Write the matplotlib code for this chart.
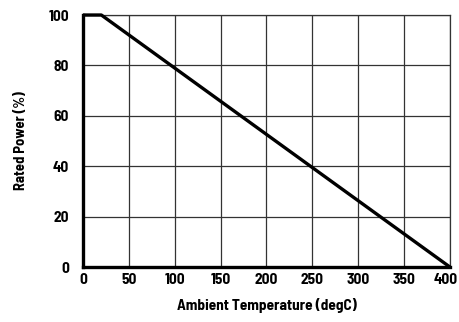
import matplotlib
matplotlib.use("Agg")
import matplotlib.pyplot as plt
from matplotlib.transforms import ScaledTranslation

temp = [0, 20, 400]
power = [100, 100, 0]
xticks = [0, 50, 100, 150, 200, 250, 300, 350, 400]
yticks = [0, 20, 40, 60, 80, 100]

plt.rcParams['font.family'] = ['Barlow Semi Condensed', 'Liberation Sans Narrow', 'DejaVu Sans']
plt.rcParams['font.weight'] = 'bold'

fig = plt.figure(figsize=(4.6, 3.22), dpi=100)
ax = fig.add_axes([0.1804, 0.1708, 0.7976, 0.7826])

ax.plot(temp, power, color='black', lw=2.4, solid_capstyle='butt', zorder=3, clip_on=False)
ax.set_xlim(0, 400)
ax.set_ylim(0, 100)
ax.set_xticks(xticks)
ax.set_yticks(yticks)
ax.grid(True, color='#333333', lw=0.9)
ax.tick_params(length=0, labelsize=11)
ax.tick_params(axis='x', pad=4)
ax.tick_params(axis='y', pad=10)
for lab in ax.get_xticklabels() + ax.get_yticklabels():
    lab.set_fontweight('bold')
# keep the last x label inside the figure
last = ax.get_xticklabels()[-1]
last.set_transform(last.get_transform() + ScaledTranslation(-4 / 100, 0, fig.dpi_scale_trans))
for s in ['top', 'right']:
    ax.spines[s].set_linewidth(0.9)
    ax.spines[s].set_color('#333333')
for s in ['left', 'bottom']:
    ax.spines[s].set_linewidth(2.4)

ax.set_xlabel("Ambient Temperature (degC)", fontsize=11, fontweight='bold', labelpad=8)
ax.set_ylabel("Rated Power (%)", fontsize=10.5, fontweight='bold', labelpad=15)

fig.savefig("out.png", dpi=100)
